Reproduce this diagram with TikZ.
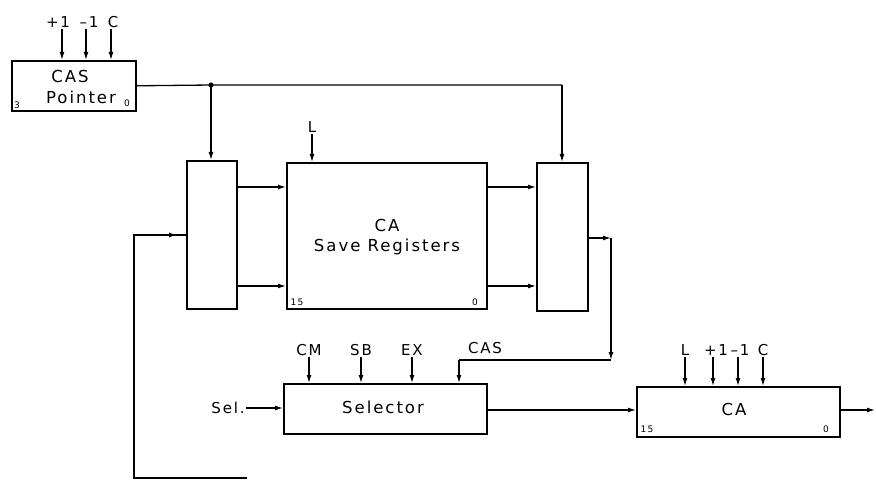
\documentclass[tikz,border=0pt]{standalone}
\usepackage{fontspec}
\setmainfont{DejaVu Sans}[LetterSpace=12]
\usetikzlibrary{arrows.meta}
\begin{document}
\begin{tikzpicture}[x=1pt,y=-1pt,
 box/.style={draw,line width=1.6pt,anchor=north west,inner sep=0pt},
 wire/.style={line width=1.3pt},
 arr/.style={wire,-{Latex[length=8pt,width=5pt]}},
 big/.style={font=\fontsize{16.5}{19}\selectfont,inner sep=0pt},
 lbl/.style={font=\fontsize{15}{17}\selectfont,inner sep=1pt},
 tiny/.style={font=\fontsize{9}{10}\selectfont,inner sep=0pt}]
\useasboundingbox (0,0) rectangle (876,481);
% boxes
\node[box,minimum width=124pt,minimum height=50pt] (ptr) at (11,60) {};
\node[box,minimum width=50pt,minimum height=148pt] (lmux) at (186,160) {};
\node[box,minimum width=200pt,minimum height=146pt] (save) at (286,162) {};
\node[box,minimum width=51pt,minimum height=148pt] (rmux) at (536,162) {};
\node[box,minimum width=203pt,minimum height=50pt] (sel) at (283,383) {};
\node[box,minimum width=203pt,minimum height=50pt] (ca) at (636,386) {};
% box texts
\node[big] (t1) at (70,76) {CAS};
\node[big] (t2) at (81,97) {Pointer};
\node[tiny] (t3) at (17,105) {3};
\node[tiny] (t4) at (127,103) {0};
\node[big] (t5) at (387,225) {CA};
\node[big] (t6) at (387,247) {Save Registers};
\node[tiny] (t7) at (297,302) {15};
\node[tiny] (t8) at (475,302) {0};
\node[big] (t9) at (383,407) {Selector};
\node[big] (t10) at (734,409) {CA};
\node[tiny] (t11) at (647,429) {15};
\node[tiny] (t12) at (826,429) {0};
% pointer inputs
\node[lbl] (p1) at (58,22) {+1};
\node[lbl] (p2) at (89,22) {–1};
\node[lbl] (p3) at (113,22) {C};
\draw[arr] (p1.south -| 62,0) -- (62,60);
\draw[arr] (p2.south -| 86,0) -- (86,60);
\draw[arr] (p3.south -| 111,0) -- (111,60);
% save L
\node[lbl] (sl) at (312,127) {L};
\draw[arr] (sl.south) -- (sl.south |- save.north);
% selector inputs
\node[lbl] (s1) at (309,350) {CM};
\node[lbl] (s2) at (361,350) {SB};
\node[lbl] (s3) at (412,350) {EX};
\node[lbl] (s4) at (485,348) {CAS};
\foreach \n in {s1,s2,s3} \draw[arr] (\n.south) -- (\n.south |- sel.north);
% CA inputs
\node[lbl] (c1) at (685,350) {L};
\node[lbl] (c2) at (716,350) {+1};
\node[lbl] (c3) at (740,350) {–1};
\node[lbl] (c4) at (763,350) {C};
\draw[arr] (c1.south) -- (c1.south |- ca.north);
\draw[arr] (c2.south -| 713,0) -- (713,386);
\draw[arr] (c3.south -| 738,0) -- (738,386);
\draw[arr] (c4.south) -- (c4.south |- ca.north);
% pointer output
\coordinate (dot) at (211,85);
\coordinate (tr) at (562,85);
\draw[wire] (ptr.east) -- (dot) -- (tr);
\draw[arr] (dot) -- (dot |- lmux.north);
\draw[arr] (tr) -- (tr |- rmux.north);
\fill (dot) circle (2.6pt);
% mux to save
\coordinate (ya) at (0,187);
\coordinate (yb) at (0,286);
\draw[arr] (lmux.east |- ya) -- (save.west |- ya);
\draw[arr] (lmux.east |- yb) -- (save.west |- yb);
\draw[arr] (save.east |- ya) -- (rmux.west |- ya);
\draw[arr] (save.east |- yb) -- (rmux.west |- yb);
% rmux output to selector CAS
\coordinate (r1) at (611,238);
\coordinate (r2) at (611,360);
\coordinate (r3) at (459,360);
\draw[arr] (rmux.east |- r1) -- (r1);
\draw[arr] (r1) -- (r2);
\draw[wire] (r2) -- (r3);
\draw[arr] (r3) -- (r3 |- sel.north);
% feedback
\coordinate (fb0) at (134,235);
\coordinate (fb1) at (177,235);
\coordinate (fb2) at (134,478);
\coordinate (fb3) at (247,478);
\draw[wire] (fb3) -- (fb2) -- (fb0) -- (lmux.west |- fb0);
\draw[arr] (fb0) -- (fb1);
% Sel.
\node[lbl] (sellbl) at (228,408) {Sel.};
\draw[arr] (sellbl.east) -- (sel.west |- sellbl.east);
% selector to CA
\coordinate (yc) at (0,410);
\draw[arr] (sel.east |- yc) -- (ca.west |- yc);
% CA output
\coordinate (caout) at (875,410);
\draw[arr] (ca.east |- caout) -- (caout);
\end{tikzpicture}
\end{document}
